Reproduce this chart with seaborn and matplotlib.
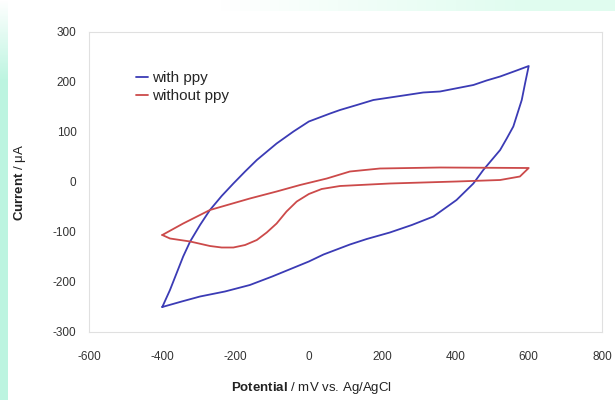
import numpy as np
import pandas as pd
import seaborn as sns
import matplotlib
matplotlib.use("Agg")
import matplotlib.pyplot as plt

# cyclic voltammograms (mV, uA)
ppy_fwd_x = [-400, -379, -343, -324, -297, -270, -238, -206, -174, -142, -88, -42, 0, 58, 85,
             131, 176, 267, 312, 358, 449, 485, 522, 567, 600]
ppy_fwd_y = [-250, -216, -149, -119, -86, -56, -28, -3, 21, 44, 77, 101, 121, 137, 144,
             154, 164, 174, 179, 181, 194, 203, 211, 223, 232]
ppy_rev_x = [600, 590, 581, 558, 540, 522, 476, 449, 403, 340, 281, 221, 158, 112, 40, 0,
             -100, -161, -229, -297, -347, -400]
ppy_rev_y = [232, 197, 164, 111, 87, 64, 24, -3, -36, -69, -86, -101, -114, -125, -145, -159,
             -189, -206, -219, -229, -239, -250]

bare_fwd_x = [-400, -343, -270, -161, -88, -24, 49, 112, 194, 358, 600]
bare_fwd_y = [-106, -83, -56, -33, -19, -6, 7, 21, 27, 29, 28]
bare_rev_x = [600, 576, 522, 403, 221, 85, 35, 0, -33, -61, -88, -115, -142, -174, -206,
              -238, -270, -324, -379, -400]
bare_rev_y = [28, 11, 4, 1, -3, -8, -14, -24, -39, -59, -83, -101, -116, -126, -131,
              -131, -128, -119, -113, -106]

labels = ["with ppy", "without ppy"]
x_ticks = [-600, -400, -200, 0, 200, 400, 600, 800]
y_ticks = [-300, -200, -100, 0, 100, 200, 300]

df = pd.concat([
    pd.DataFrame({"potential": ppy_fwd_x + ppy_rev_x[1:],
                  "current": ppy_fwd_y + ppy_rev_y[1:], "series": labels[0]}),
    pd.DataFrame({"potential": bare_fwd_x + bare_rev_x[1:],
                  "current": bare_fwd_y + bare_rev_y[1:], "series": labels[1]}),
], ignore_index=True)

sns.set_theme(style="white")
plt.rcParams["font.family"] = ["Liberation Sans", "DejaVu Sans"]
plt.rcParams["mathtext.fontset"] = "custom"
plt.rcParams["mathtext.bf"] = "Liberation Sans:bold"
plt.rcParams["mathtext.rm"] = "Liberation Sans"
plt.rcParams["axes.unicode_minus"] = False

fig = plt.figure(figsize=(6.15, 4.0), dpi=100)
fig.patch.set_facecolor("white")

# faint mint edges of the slide background
bg = fig.add_axes([0, 0, 1, 1], zorder=-5)
bg.axis("off")
img = np.ones((400, 615, 3))
mint_l = np.array([0.74, 0.96, 0.88])
mint_t = np.array([0.88, 0.99, 0.94])
a_left = np.clip(np.arange(400) / 80.0, 0, 1)[:, None, None] * np.ones((1, 8, 1))
img[:, :8] = (1 - a_left) + a_left * mint_l
a_top = np.clip((np.arange(615) - 220) / 300.0, 0, 1)[None, :, None] * np.ones((11, 1, 1))
img[:11, :] = (1 - a_top) * img[:11, :] + a_top * mint_t
bg.imshow(img, aspect="auto", extent=[0, 1, 0, 1])

ax = fig.add_axes([89 / 615, 1 - 332 / 400, (602 - 89) / 615, 300 / 400])
ax.set_facecolor("white")

sns.lineplot(data=df, x="potential", y="current", hue="series", sort=False,
             estimator=None, palette=["#3b3bb5", "#cc4a4a"], linewidth=1.3, ax=ax)

ax.set_xlim(-600, 800)
ax.set_ylim(-300, 300)
ax.set_xticks(x_ticks)
ax.set_yticks(y_ticks)
ax.tick_params(axis="both", length=0, labelsize=8.5, labelcolor="#333333")
ax.tick_params(axis="x", pad=14)
ax.tick_params(axis="y", pad=9)
for s in ax.spines.values():
    s.set_color("#e0e0e0")
    s.set_linewidth(0.8)

ax.set_xlabel(r"$\bf{Potential}$ / mV vs. Ag/AgCl", fontsize=9.5, color="#222222")
ax.set_ylabel(r"$\bf{Current}$ / μA", fontsize=9.5, color="#222222")
ax.xaxis.set_label_coords(0.433, -0.16)
ax.yaxis.set_label_coords(-0.118, 0.5)

ax.legend(loc="upper left", bbox_to_anchor=(0.08, 0.89), frameon=False,
          handlelength=0.8, handletextpad=0.25, labelspacing=0.25, fontsize=11,
          borderaxespad=0)

fig.savefig("out.png", dpi=100, facecolor=fig.get_facecolor())
